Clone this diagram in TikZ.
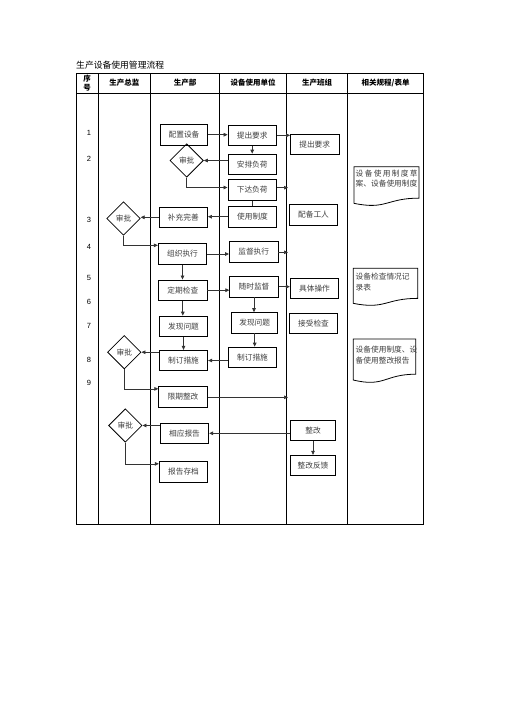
\documentclass[tikz,border=0pt]{standalone}
\usepackage{fontspec}
\setmainfont{Liberation Sans}
\newfontfamily\cjk{Noto Sans CJK SC}
\usetikzlibrary{shapes.geometric,arrows.meta}
\newcommand\docshp[4]{\draw[line width=0.8pt] (#1,#2) -- ({#1+#3},#2) -- ({#1+#3},{#2+0.802*#4}) .. controls ({#1+#3/2},{#2+0.802*#4}) and ({#1+#3/2},{#2+1.107*#4}) .. (#1,{#2+0.934*#4}) -- cycle;}
\begin{document}
\begin{tikzpicture}[x=1pt,y=-1pt,
  box/.style={draw, line width=0.8pt, minimum width=48.5pt, minimum height=20.5pt, inner sep=0pt, font=\cjk\fontsize{7.7}{9}\selectfont, text=black!75},
  dia/.style={draw, diamond, aspect=1, minimum width=33.5pt, minimum height=33.5pt, inner sep=0pt, line width=0.8pt, font=\cjk\fontsize{7.7}{9}\selectfont, text=black!75},
  arr/.style={-{Triangle[length=4pt,width=3.6pt]}, line width=0.7pt, draw=black!80},
  ln/.style={line width=0.7pt, draw=black!80},
  grid/.style={line width=0.9pt},
  hd/.style={font=\cjk\bfseries\fontsize{7.5}{9}\selectfont, inner sep=0pt},
  num/.style={font=\fontsize{7.5}{9}\selectfont, inner sep=0pt},
  dt/.style={font=\cjk\fontsize{7.7}{9}\selectfont, inner sep=0pt, text=black!75, anchor=west},
]
\useasboundingbox (0,0) rectangle (504,713);
\fill[white] (0,0) rectangle (504,713);

% title
\node[anchor=west, inner sep=0pt, font=\cjk\fontsize{8.8}{10}\selectfont] (title) at (76,65.5) {生产设备使用管理流程};

% table
\draw[grid] (76,73) rectangle (423.5,524);
\draw[grid] (76,93) -- (423.5,93);
\foreach \x in {98.3,150.5,219.5,286.7,347.7} \draw[grid] (\x,73) -- (\x,524);

% headers
\node[hd] (h0a) at (87.2,79) {序};
\node[hd] (h0b) at (87.2,88) {号};
\node[hd] (h1) at (124.4,83) {生产总监};
\node[hd] (h2) at (185,83) {生产部};
\node[hd] (h3) at (253,83) {设备使用单位};
\node[hd] (h4) at (317.2,83) {生产班组};
\node[hd] (h5) at (385.6,83) {相关规程/表单};

% row numbers
\node[num] (n1) at (89,132.7) {1};
\node[num] (n2) at (89,158.7) {2};
\node[num] (n3) at (89,220) {3};
\node[num] (n4) at (89,246.7) {4};
\node[num] (n5) at (89,278.3) {5};
\node[num] (n6) at (89,301.7) {6};
\node[num] (n7) at (89,325.7) {7};
\node[num] (n8) at (89,360) {8};
\node[num] (n9) at (89,383.3) {9};

% boxes
\node[box, minimum width=46.6pt] (cfg) at (184,134.7) {配置设备};
\node[box] (req1) at (252.2,135.3) {提出要求};
\node[box] (req2) at (314.7,144.5) {提出要求};
\node[box] (arrg) at (252.2,164.3) {安排负荷};
\node[box] (iss) at (252.2,190) {下达负荷};
\node[box] (use) at (252.5,216.7) {使用制度};
\node[box] (sup) at (183.3,217.3) {补充完善};
\node[box] (wk) at (313.5,214.8) {配备工人};
\node[box] (org) at (182.5,254) {组织执行};
\node[box] (sv) at (253.7,251.7) {监督执行};
\node[box] (chk) at (182.8,290.2) {定期检查};
\node[box] (mon) at (254,286.7) {随时监督};
\node[box] (op) at (314.5,288.3) {具体操作};
\node[box] (fp1) at (183.5,326.3) {发现问题};
\node[box, minimum width=46pt] (fp2) at (254.7,322.8) {发现问题};
\node[box] (acc) at (313.5,323.3) {接受检查};
\node[box] (ms1) at (183.5,360.5) {制订措施};
\node[box] (ms2) at (252.5,357.3) {制订措施};
\node[box] (lim) at (183,397) {限期整改};
\node[box] (rep) at (184.5,433.3) {相应报告};
\node[box] (arc) at (183.5,472) {报告存档};
\node[box, minimum width=45.4pt] (fix) at (313,430.3) {整改};
\node[box, minimum width=45.4pt] (fb) at (313,465.5) {整改反馈};

% diamonds
\node[dia] (d1) at (186.7,160.5) {审批};
\node[dia] (d2) at (123.5,218.5) {审批};
\node[dia] (d3) at (124.3,352.2) {审批};
\node[dia] (d4) at (125.3,425.5) {审批};

% free ends
\coordinate (e1) at (288,187.7);
\coordinate (e2) at (288,252.3);
\coordinate (e3) at (288,397.3);

% connectors
\draw[arr] (cfg.east) -- (cfg.east -| req1.west);
\draw[arr] (req1.east) -- (req1.east -| req2.west);
\draw[arr] (req1.south) -- (req1.south |- arrg.north);
\draw[arr] (arrg.west |- d1.east) -- (d1.east);
\draw[arr] (d1.south) |- ([yshift=2.5pt]iss.west);
\draw[arr] (iss.east |- e1) -- (e1);
\draw[ln] (iss.south) -- (iss.south |- use.north);
\draw[arr] (use.west) -- (use.west -| sup.east);
\draw[arr] (sup.west) -- (sup.west -| d2.east);
\draw[arr] (d2.south) |- ([yshift=-2pt]org.north west);
\draw[arr] (org.east) -- (org.east -| sv.west);
\draw[arr] (sv.east |- e2) -- (e2);
\draw[arr] (org.south) -- (org.south |- chk.north);
\draw[arr] (chk.east) -- (chk.east -| mon.west);
\draw[arr] (mon.east) -- (mon.east -| op.west);
\draw[arr] (chk.south) -- (chk.south |- fp1.north);
\draw[arr] (mon.south) -- (mon.south |- fp2.north);
\draw[arr] (fp1.south) -- (fp1.south |- ms1.north);
\draw[arr] (fp2.south) -- (fp2.south |- ms2.north);
\draw[arr] (ms2.west |- ms1.east) -- (ms1.east);
\draw[arr] (ms1.west |- d3.east) -- (d3.east);
\draw[arr] (d3.south) |- ([yshift=-2.5pt]lim.north west);
\draw[arr] (lim.east |- e3) -- (e3);
\draw[arr] (fix.west |- rep.east) -- (rep.east);
\draw[arr] (rep.west |- d4.east) -- (d4.east);
\draw[arr] (d4.south) |- ([yshift=-2.5pt]arc.north west);
\draw[arr] (fix.south) -- (fix.south |- fb.north);

% documents
\docshp{354}{166.7}{65}{39.2}
\docshp{353.3}{268.3}{64.4}{37.5}
\docshp{353.3}{339}{62.4}{43.9}
\node[dt] (t1a) at (355.5,173.3) {\makebox[62pt][s]{设\hfill 备\hfill 使\hfill 用\hfill 制\hfill 度\hfill 草}};
\node[dt] (t1b) at (355.5,184) {案、设备使用制度};
\node[dt] (t2a) at (355.5,276.7) {设备检查情况记};
\node[dt] (t2b) at (355.5,287.3) {录表};
\node[dt] (t3a) at (355.5,350) {设备使用制度、设};
\node[dt] (t3b) at (355.5,360.7) {备使用整改报告};
\end{tikzpicture}
\end{document}
